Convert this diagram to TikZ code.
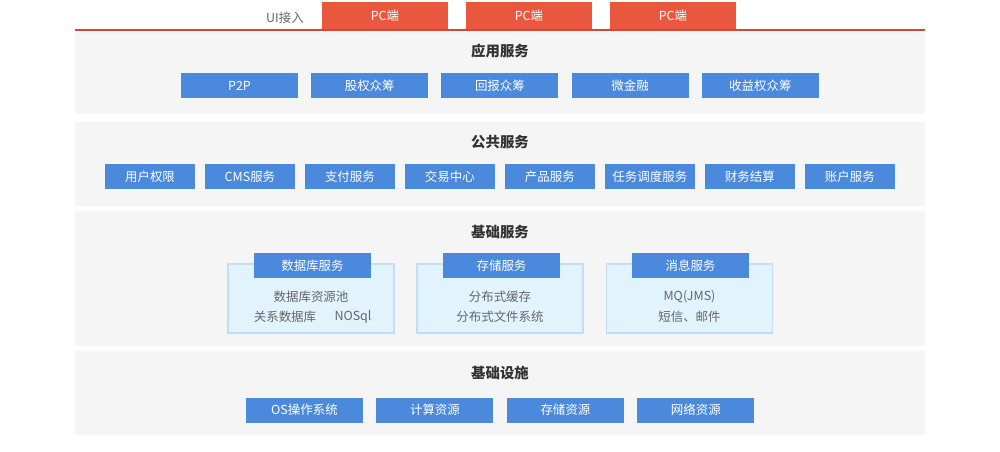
\documentclass[tikz,border=0pt]{standalone}
\usepackage{fontspec}
\setmainfont{Noto Sans CJK SC}
\usetikzlibrary{positioning}

\definecolor{layergray}{HTML}{F5F5F5}
\definecolor{btnblue}{HTML}{4A89DC}
\definecolor{pcred}{HTML}{E9573F}
\definecolor{lineRed}{HTML}{D04A35}
\definecolor{boxfill}{HTML}{E1F4FD}
\definecolor{boxline}{HTML}{C2DDF7}
\definecolor{txtgray}{HTML}{666666}
\definecolor{titlegray}{HTML}{333333}

\begin{document}
\begin{tikzpicture}[x=0.02cm,y=-0.02cm,
	every node/.style={inner sep=0pt,outer sep=0pt},
	layer/.style={fill=layergray,minimum width=17cm,anchor=north west},
	pcbox/.style={fill=pcred,text=white,minimum width=2.52cm,minimum height=0.54cm,
		font=\fontsize{7.1}{8}\selectfont},
	btn/.style={fill=btnblue,text=white,minimum width=2.34cm,minimum height=0.5cm,
		font=\fontsize{7.1}{8}\selectfont},
	smallbtn/.style={btn,minimum width=1.8cm},
	title/.style={text=titlegray,font=\bfseries\fontsize{8.2}{9}\selectfont},
	group/.style={fill=boxfill,draw=boxline,line width=0.6pt,
		minimum width=3.32cm,minimum height=1.38cm,anchor=north},
	item/.style={text=txtgray,font=\fontsize{7.1}{8}\selectfont}]

\useasboundingbox (0,0) rectangle (1000,451);

% Layers
\node[layer,minimum height=1.68cm] (appLayer) at (75,30) {};
\node[layer,minimum height=1.68cm] (commonLayer) at (75,122) {};
\node[layer,minimum height=2.7cm] (baseLayer) at (75,211) {};
\node[layer,minimum height=1.68cm] (infraLayer) at (75,351) {};

% UI access
\node[item] (ui) at (285,18) {UI接入};
\node[pcbox,anchor=north west] (pc1) at (322,2) {PC端};
\node[pcbox,right=0.36cm of pc1] (pc2) {PC端};
\node[pcbox,right=0.36cm of pc2] (pc3) {PC端};
\draw[lineRed,line width=0.6pt] (appLayer.north west) -- (appLayer.north east);

% Application services
\node[title] (appTitle) at (500,51) {应用服务};
\node[btn] (p2p) at (239.5,85.5) {P2P};
\node[btn,right=0.265cm of p2p] (equity) {股权众筹};
\node[btn,right=0.265cm of equity] (reward) {回报众筹};
\node[btn,right=0.265cm of reward] (microFin) {微金融};
\node[btn,right=0.265cm of microFin] (income) {收益权众筹};

% Common services
\node[title] (commonTitle) at (500,142) {公共服务};
\node[smallbtn] (auth) at (150,176.5) {用户权限};
\node[smallbtn,right=0.2cm of auth] (cms) {CMS服务};
\node[smallbtn,right=0.2cm of cms] (pay) {支付服务};
\node[smallbtn,right=0.2cm of pay] (trade) {交易中心};
\node[smallbtn,right=0.2cm of trade] (product) {产品服务};
\node[smallbtn,right=0.2cm of product] (task) {任务调度服务};
\node[smallbtn,right=0.2cm of task] (finance) {财务结算};
\node[smallbtn,right=0.2cm of finance] (account) {账户服务};

% Base services
\node[title] (baseTitle) at (500,232) {基础服务};

\node[group] (dbGroup) at (311,264) {};
\node[btn] (dbHead) at ([xshift=0.03cm,yshift=-0.03cm]dbGroup.north) {数据库服务};
\node[item] (dbPool) at (311,297) {数据库资源池};
\node[item] (rdb) at (285,317) {关系数据库};
\node[item] (nosql) at (353,317) {NOSql};

\node[group] (storeGroup) at (500,264) {};
\node[btn] (storeHead) at ([xshift=0.03cm,yshift=-0.03cm]storeGroup.north) {存储服务};
\node[item] (cache) at (500,297) {分布式缓存};
\node[item] (dfs) at (500,317) {分布式文件系统};

\node[group] (msgGroup) at (689.5,264) {};
\node[btn] (msgHead) at ([xshift=0.02cm,yshift=-0.03cm]msgGroup.north) {消息服务};
\node[item] (mq) at (689.5,297) {MQ(JMS)};
\node[item] (sms) at (689.5,317) {短信、邮件};

% Infrastructure
\node[title] (infraTitle) at (500,373) {基础设施};
\node[btn] (os) at (304.5,410) {OS操作系统};
\node[btn,right=0.27cm of os] (compute) {计算资源};
\node[btn,right=0.27cm of compute] (storage) {存储资源};
\node[btn,right=0.27cm of storage] (network) {网络资源};

\end{tikzpicture}
\end{document}
